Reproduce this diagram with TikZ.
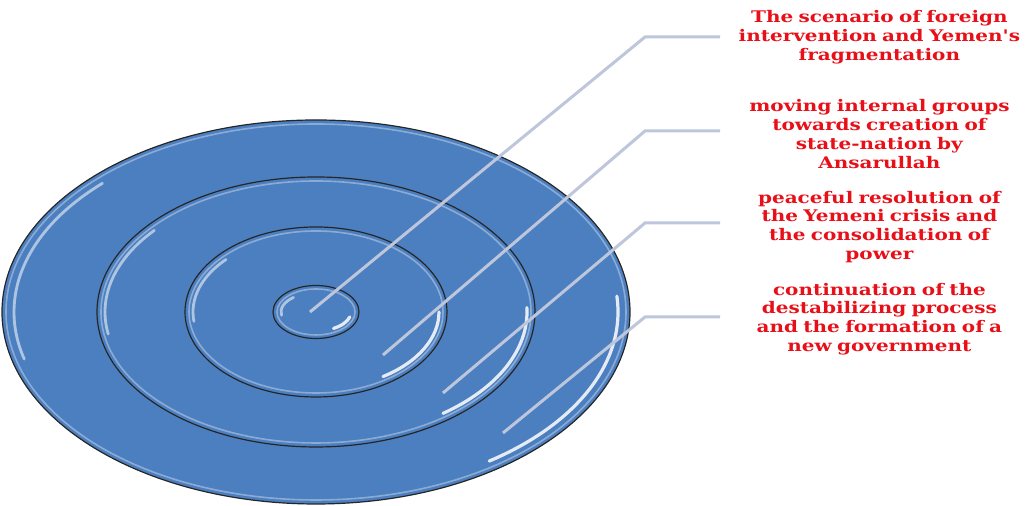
\documentclass[tikz,border=0pt]{standalone}
\usepackage{fontspec}
\usepackage{xcolor}
\usetikzlibrary{shapes.geometric, positioning, calc}
\newfontfamily\scenfont[FakeStretch=1.25]{DejaVu Serif}
\definecolor{ringblue}{RGB}{76,127,192}
\definecolor{leadgrey}{RGB}{190,198,220}
\definecolor{scenred}{RGB}{232,16,24}
\tikzset{
  ring/.style   ={ellipse, draw=black!85, line width=0.6pt, fill=ringblue, inner sep=0pt},
  bevel/.style  ={draw=white, opacity=0.35, line width=0.8pt},
  gloss/.style  ={draw=white, opacity=0.55, line width=1.4pt, line cap=round},
  shine/.style  ={draw=white, opacity=0.85, line width=1.6pt, line cap=round},
  leader/.style ={draw=leadgrey, line width=1.5pt},
  scen/.style   ={anchor=west, inner sep=0pt, text width=146pt, align=center,
                  text=scenred, font=\scenfont\bfseries\fontsize{8}{9.4}\selectfont},
}
\begin{document}
\begin{tikzpicture}[x=0.5pt, y=0.5pt]
\useasboundingbox (0,0) rectangle (1025,506);

% ---- target rings ----
\coordinate (c) at (316,194);
\node[ring, minimum width=314pt, minimum height=192pt] (ring4) at (c) {};
\node[ring, minimum width=219pt, minimum height=135pt] (ring3) at (c) {};
\node[ring, minimum width=131pt, minimum height=85pt]  (ring2) at (c) {};
\node[ring, minimum width=43pt,  minimum height=26.5pt] (ring1) at (c) {};

% ---- bevel + gloss ----
\foreach \a/\b in {310/188, 215/131, 127/81, 39/23}
  \draw[bevel] (c) ellipse[x radius=\a, y radius=\b];
\foreach \a/\b/\s/\e in {302/182/135/195, 211/127/140/190, 123/77/137/187, 35/19/130/190}
  \draw[gloss] (c) ++(\s:\a*1 and \b*1) arc[start angle=\s, end angle=\e, x radius=\a, y radius=\b];
\foreach \a/\b/\s/\e in {302/182/305/365, 211/127/307/362, 123/77/303/360, 35/19/300/345}
  \draw[shine] (c) ++(\s:\a*1 and \b*1) arc[start angle=\s, end angle=\e, x radius=\a, y radius=\b];

% ---- scenarios ----
\node[scen] (t1) at (733,469) {The scenario of foreign\\intervention and Yemen's\\fragmentation};
\node[scen] (t2) at (733,372) {moving internal groups\\towards creation of\\state-nation by\\Ansarullah};
\node[scen] (t3) at (733,279) {peaceful resolution of\\the Yemeni crisis and\\the consolidation of\\power};
\node[scen] (t4) at (733,187) {continuation of the\\destabilizing process\\and the formation of a\\new government};

% ---- leaders ----
\coordinate (s1) at (310,194); \coordinate (k1) at (645,469);
\coordinate (s2) at (383,151); \coordinate (k2) at (645,375);
\coordinate (s3) at (443,113); \coordinate (k3) at (645,283);
\coordinate (s4) at (503,73);  \coordinate (k4) at (645,189);
\foreach \i in {1,...,4}
  \draw[leader] (s\i) -- (k\i) -- ([xshift=-6.5pt]k\i -| t\i.west);

\end{tikzpicture}
\end{document}
